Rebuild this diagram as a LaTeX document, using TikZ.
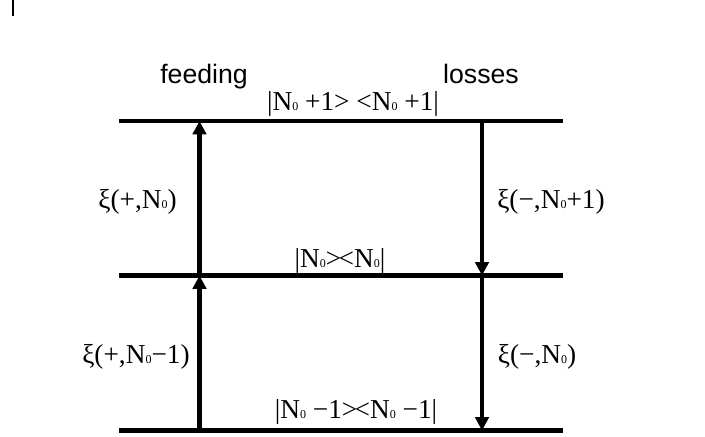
\documentclass[tikz,border=0pt]{standalone}
\usepackage{fontspec}
\setmainfont{Liberation Serif}
\setsansfont{Liberation Sans}
\usetikzlibrary{arrows.meta}
\tikzstyle{level}=[line width=3.4pt]
\tikzstyle{jump}=[line width=3.6pt, -{Triangle[width=10pt,length=10pt]}]
\tikzstyle{rate}=[font=\fontsize{20.5}{22}\selectfont, inner sep=0pt, anchor=base]
\tikzstyle{head}=[font=\sffamily\fontsize{20}{22}\selectfont, inner sep=0pt, anchor=base]
\newcommand{\Nz}{N{\fontsize{9}{9}\selectfont 0}}
\newcommand{\rate}{\node[rate]}

\begin{document}
\begin{tikzpicture}[x=0.75pt, y=-0.75pt]
            \useasboundingbox (0,0) rectangle (705,436);
            \draw[line width=1.5pt] (13,0) -- (13,16);
            % levels
            \coordinate (t1) at (119,121);   \coordinate (t2) at (563,121);
            \coordinate (m1) at (119,275.5); \coordinate (m2) at (563,275.5);
            \coordinate (b1) at (119,430.5); \coordinate (b2) at (563,430.5);
            \draw[level] (t1) -- (t2);
            \draw[level] (m1) -- (m2);
            \draw[level] (b1) -- (b2);
            % feeding and losses
            \coordinate (f0) at (199.5,430.5);
            \coordinate (f1) at (199.5,275.5);
            \coordinate (f2) at (199.5,121);
            \coordinate (l2) at (482,121);
            \coordinate (l1) at (482,275.5);
            \coordinate (l0) at (482,430.5);
            \draw[jump] (f0) -- (f1);
            \draw[jump] (f1) -- (f2);
            \draw[jump] (l2) -- (l1);
            \draw[jump] (l1) -- (l0);
            \node[head] (feed) at (204,83) {feeding};
            \node[head] (loss) at (481,83) {losses};
            \rate (top) at (353,110) {|\Nz\ +1> <\Nz\ +1|};
            \rate (mid) at (340,267) {|\Nz>\kern-2pt<\Nz|};
            \rate (bot) at (356,418) {|\Nz\ −1>\kern-2pt<\Nz\ −1|};
            \rate (up1) at (137.5,208) {ξ(+,\Nz)};
            \rate (up0) at (136,363) {ξ(+,\Nz−1)};
            \rate (dn1) at (551,208) {ξ(−,\Nz+1)};
            \rate (dn0) at (537,363) {ξ(−,\Nz)};
        \end{tikzpicture}
\end{document}
